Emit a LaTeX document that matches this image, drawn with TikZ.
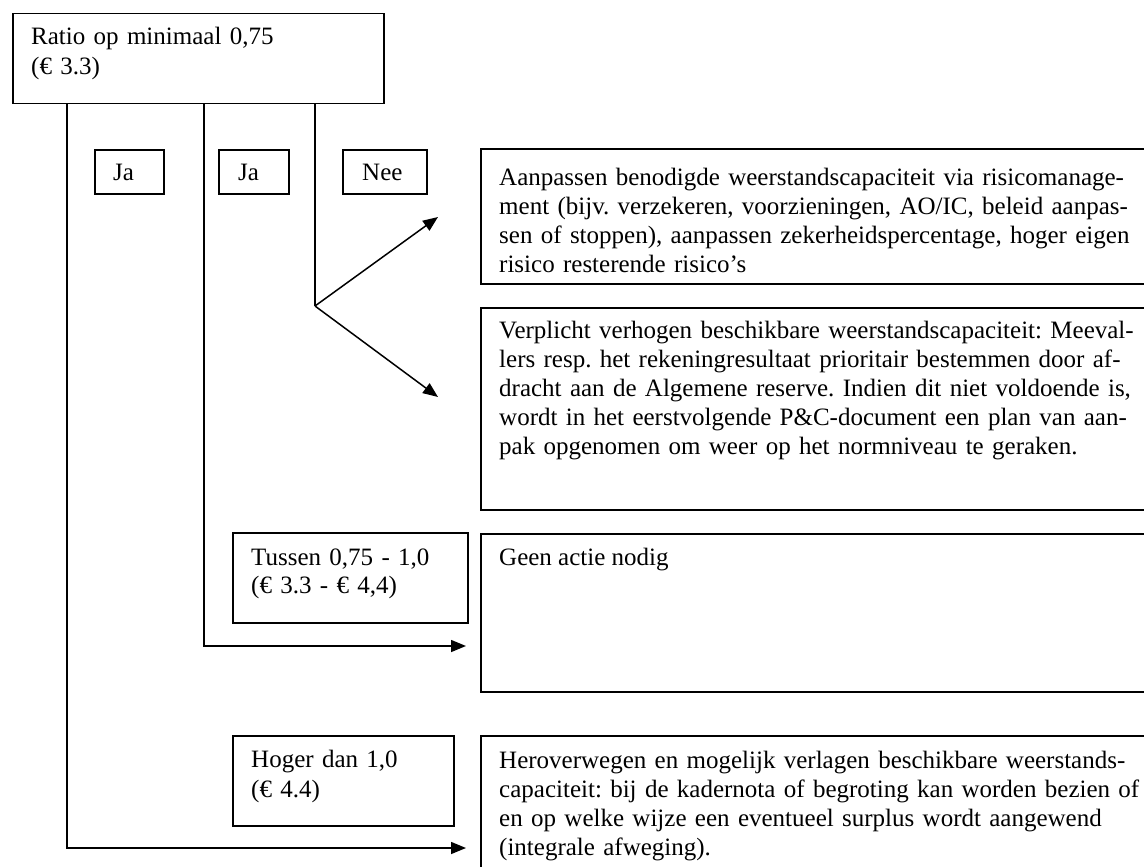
\documentclass[tikz,border=0pt]{standalone}
\usepackage{fontspec}
\setmainfont{Liberation Serif}
\usetikzlibrary{arrows.meta}
\newcommand\JLine[2]{\leavevmode\hbox to #1{#2}}
\frenchspacing
\begin{document}
\frenchspacing
\begin{tikzpicture}[x=1pt,y=-1pt,
  box/.style 2 args={draw, line width=1.5pt, anchor=north west, inner sep=0pt, minimum width=#1, minimum height=#2},
  txt/.style={font=\fontsize{25}{29}\selectfont\frenchspacing, inner sep=0pt, anchor=base west},
  para/.style={txt, text width=#1, align=left},
  conn/.style={line width=1.5pt},
  arr/.style={line width=1.5pt, -{Triangle[length=15pt,width=12pt]}}]
\useasboundingbox (0,0) rectangle (1144,867);
\clip (0,0) rectangle (1144,867);
% boxes
\node[box={371pt}{90pt}] (top) at (12,13) {};
\node[box={69pt}{44pt}] (ja1) at (94,149) {};
\node[box={70pt}{44pt}] (ja2) at (218,149) {};
\node[box={84pt}{44pt}] (nee) at (342,149) {};
\node[box={700pt}{135pt}] (aan) at (480,148) {};
\node[box={700pt}{202pt}] (ver) at (480,307) {};
\node[box={235pt}{90pt}] (tus) at (232,532) {};
\node[box={700pt}{158pt}] (geen) at (480,533) {};
\node[box={221pt}{90pt}] (hog) at (232,735) {};
\node[box={700pt}{200pt}] (her) at (480,735) {};
% texts
\node[para=360pt, font=\fontsize{25}{30}\selectfont] (ttop) at (31,45) {Ratio op minimaal 0,75\\(€ 3.3)};
\node[txt] (tja1) at (113,180) {Ja};
\node[txt] (tja2) at (238,180) {Ja};
\node[txt] (tnee) at (362,180) {Nee};
\node[para=640pt] (taan) at (499,185) {%
\JLine{618pt}{Aanpassen benodigde weerstandscapaciteit via risicomanage-}\\
\JLine{618pt}{ment (bijv. verzekeren, voorzieningen, AO/IC, beleid aanpas-}\\
\JLine{618pt}{sen of stoppen), aanpassen zekerheidspercentage, hoger eigen}\\
risico resterende risico’s};
\node[para=640pt] (tver) at (499,338) {%
\JLine{622pt}{Verplicht verhogen beschikbare weerstandscapaciteit: Meeval-}\\
\JLine{622pt}{lers resp. het rekeningresultaat prioritair bestemmen door af-}\\
\JLine{622pt}{dracht aan de Algemene reserve. Indien dit niet voldoende is,}\\
\JLine{622pt}{wordt in het eerstvolgende P\&C-document een plan van aan-}\\
pak opgenomen om weer op het normniveau te geraken.};
\node[para=210pt, font=\fontsize{25}{28}\selectfont] (ttus) at (251,565) {%
\JLine{194pt}{Tussen 0,75 - 1,0}\\
(€ 3.3 - € 4,4)};
\node[txt] (tgeen) at (499,565) {Geen actie nodig};
\node[para=210pt, font=\fontsize{25}{30}\selectfont] (thog) at (251,767) {Hoger dan 1,0\\(€ 4.4)};
\node[para=640pt] (ther) at (499,768) {%
\JLine{614pt}{Heroverwegen en mogelijk verlagen beschikbare weerstands-}\\
\JLine{624pt}{capaciteit: bij de kadernota of begroting kan worden bezien of}\\
en op welke wijze een eventueel surplus wordt aangewend\\
(integrale afweging).};
% connector points
\coordinate (v1) at (67,848);
\coordinate (v2) at (204,646);
\coordinate (split) at (315,306);
\coordinate (e1) at (466,848);
\coordinate (e2) at (466,646);
\coordinate (e3) at (438,217);
\coordinate (e4) at (438,397);
% connectors
\draw[arr] (top.south -| v1) |- (e1);
\draw[arr] (top.south -| v2) |- (e2);
\draw[conn] (top.south -| split) -- (split);
\draw[arr] (split) -- (e3);
\draw[arr] (split) -- (e4);
\end{tikzpicture}
\end{document}
